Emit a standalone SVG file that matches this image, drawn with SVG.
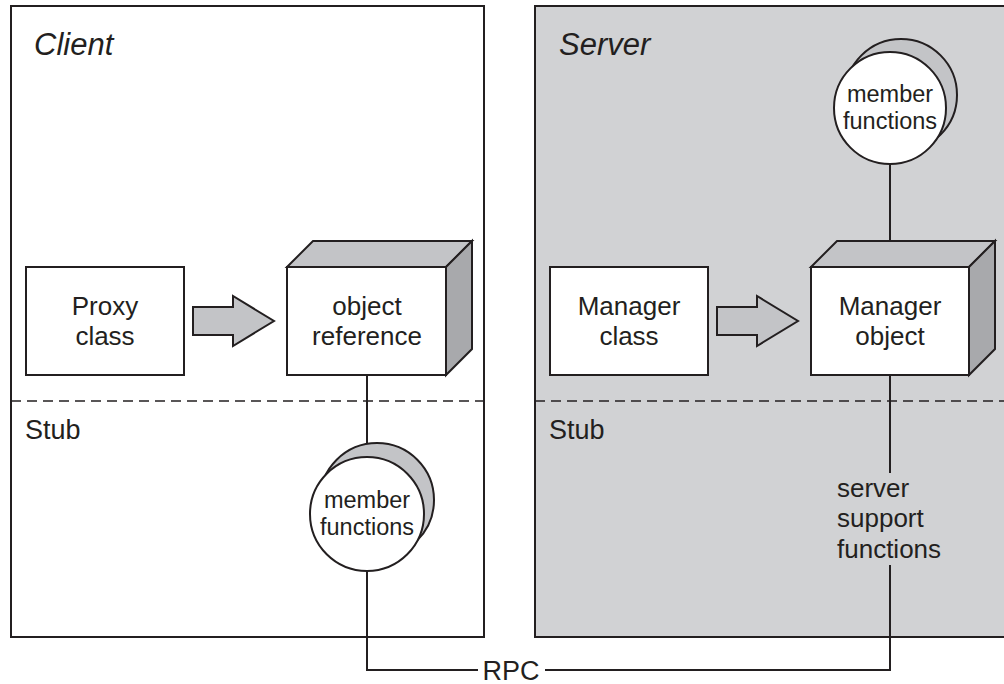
<svg xmlns="http://www.w3.org/2000/svg" width="1004" height="684" viewBox="0 0 1004 684">
<style>
.ln{stroke:#231f20;stroke-width:2;fill:none}
.bx{stroke:#231f20;stroke-width:2;fill:#fff}
.sh{stroke:#231f20;stroke-width:2;fill:#c3c4c7}
.sd{stroke:#231f20;stroke-width:2;fill:#a8a9ac}
.dash{stroke:#231f20;stroke-width:1.6;stroke-dasharray:10 6;fill:none}
text{font-family:"Liberation Sans",Arial,sans-serif;fill:#231f20}
.t{font-size:26px;text-anchor:middle}
.c{font-size:23.5px;text-anchor:middle}
.ttl{font-size:31px;font-style:italic}
.stub{font-size:27px}
</style>
<g id="client">
<rect x="11" y="6" width="473" height="631" fill="#fff" stroke="#231f20" stroke-width="2"/>
<text class="ttl" x="34" y="55">Client</text>
<line class="dash" x1="11" y1="401" x2="484" y2="401"/>
<text class="stub" x="25" y="439">Stub</text>
</g>
<g id="server">
<rect x="535" y="6" width="480" height="631" fill="#d1d2d4" stroke="#231f20" stroke-width="2"/>
<text class="ttl" x="559" y="55">Server</text>
<line class="dash" x1="535" y1="401" x2="1004" y2="401"/>
<text class="stub" x="549" y="439">Stub</text>
</g>
<g id="connectors">
<line class="ln" x1="367" y1="375" x2="367" y2="445"/>
<polyline class="ln" points="367,571 367,670 478,670"/>
<polyline class="ln" points="545,670 890,670 890,565"/>
<line class="ln" x1="890" y1="375" x2="890" y2="473"/>
<line class="ln" x1="890" y1="164" x2="890" y2="241"/>
<polygon class="sh" points="193,307 233,307 233,296 274,321 233,346 233,335 193,335"/>
<polygon class="sh" points="717,307 757,307 757,296 798,321 757,346 757,335 717,335"/>
</g>
<g id="proxy-class">
<rect class="bx" x="26" y="267" width="158" height="108"/>
<text class="t" x="105" y="315">Proxy</text>
<text class="t" x="105" y="345">class</text>
</g>
<g id="object-reference">
<polygon class="sh" points="287,267 313,241 472,241 446,267"/>
<polygon class="sd" points="446,267 472,241 472,349 446,375"/>
<rect class="bx" x="287" y="267" width="159" height="108"/>
<text class="t" x="367" y="315">object</text>
<text class="t" x="367" y="345">reference</text>
</g>
<g id="client-member-functions">
<circle class="sh" cx="377" cy="500" r="57"/>
<circle class="bx" cx="367" cy="514" r="57"/>
<text class="c" x="367" y="508">member</text>
<text class="c" x="367" y="535">functions</text>
</g>
<g id="manager-class">
<rect class="bx" x="550" y="267" width="158" height="108"/>
<text class="t" x="629" y="315">Manager</text>
<text class="t" x="629" y="345">class</text>
</g>
<g id="manager-object">
<polygon class="sh" points="811,267 837,241 995,241 969,267"/>
<polygon class="sd" points="969,267 995,241 995,349 969,375"/>
<rect class="bx" x="811" y="267" width="158" height="108"/>
<text class="t" x="890" y="315">Manager</text>
<text class="t" x="890" y="345">object</text>
</g>
<g id="server-member-functions">
<circle class="sh" cx="901" cy="95" r="56"/>
<circle class="bx" cx="890" cy="108" r="56"/>
<text class="c" x="890" y="102">member</text>
<text class="c" x="890" y="129">functions</text>
</g>
<g id="server-support-functions">
<text style="font-size:26px" x="837" y="497">server</text>
<text style="font-size:26px" x="837" y="527">support</text>
<text style="font-size:26px" x="837" y="558">functions</text>
</g>
<text x="511" y="680" style="font-size:27px;text-anchor:middle">RPC</text>
</svg>
